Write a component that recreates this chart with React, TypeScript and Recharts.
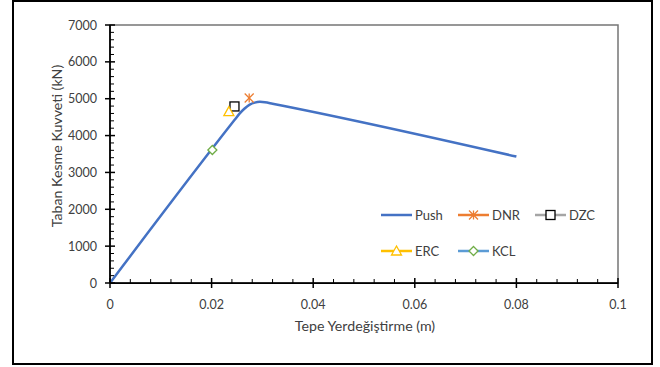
import React from 'react';
import {
  ComposedChart,
  Line,
  Scatter,
  XAxis,
  YAxis,
  ReferenceArea,
} from 'recharts';

// ---- Data ----
const pushX = [0, 0.0245, 0.0255, 0.0265, 0.0275, 0.0285, 0.0295, 0.0305, 0.032, 0.08];
const pushY = [0, 4420, 4595, 4735, 4840, 4895, 4915, 4905, 4865, 3430];

const dnrPoint = { x: 0.0274, y: 5020 };
const dzcPoint = { x: 0.0245, y: 4790 };
const ercPoint = { x: 0.0234, y: 4650 };
const kclPoint = { x: 0.02015, y: 3608 };

const xMajorTicks = [0, 0.02, 0.04, 0.06, 0.08, 0.1];
const xTickLabels = ['0', '0.02', '0.04', '0.06', '0.08', '0.1'];
const yMajorTicks = [0, 1000, 2000, 3000, 4000, 5000, 6000, 7000];
const xMinorStep = 0.004;
const yMinorStep = 200;

const xTitle = 'Tepe Yerdeğiştirme (m)';
const yTitle = 'Taban Kesme Kuvveti (kN)';

const seriesNames = ['Push', 'DNR', 'DZC', 'ERC', 'KCL'];

// ---- Derived ----
const pushData = pushX.map((x, i) => ({ x, y: pushY[i] }));
const xTicks: number[] = [];
for (let i = 0; i <= 25; i++) xTicks.push(+(i * xMinorStep).toFixed(4));
const yTicks: number[] = [];
for (let i = 0; i <= 35; i++) yTicks.push(i * yMinorStep);

const isMajor = (v: number, list: number[]) => list.some((m) => Math.abs(m - v) < 1e-9);

const FONT = 'Lato, "Open Sans", sans-serif';
const TEXT = '#404040';

const COLORS = {
  push: '#4472C4',
  dnr: '#ED7D31',
  dzcLine: '#A5A5A5',
  dzcMarker: '#000000',
  erc: '#FFC000',
  kclLine: '#5B9BD5',
  kclMarker: '#70AD47',
};

type MarkerKind = 'star' | 'square' | 'triangle' | 'diamond';

const Marker = ({ kind, cx, cy, color }: { kind: MarkerKind; cx: number; cy: number; color: string }) => {
  const r = 4.5;
  if (kind === 'star') {
    return (
      <g stroke={color} strokeWidth={1.3} fill="none">
        <line x1={cx} y1={cy - r} x2={cx} y2={cy + r} />
        <line x1={cx - r} y1={cy - r} x2={cx + r} y2={cy + r} />
        <line x1={cx - r} y1={cy + r} x2={cx + r} y2={cy - r} />
      </g>
    );
  }
  if (kind === 'square') {
    return <rect x={cx - r} y={cy - r} width={2 * r} height={2 * r} stroke={color} strokeWidth={1.3} fill="#fff" />;
  }
  if (kind === 'triangle') {
    return (
      <polygon
        points={`${cx},${cy - r - 0.5} ${cx + r + 0.5},${cy + r - 0.5} ${cx - r - 0.5},${cy + r - 0.5}`}
        stroke={color}
        strokeWidth={1.3}
        fill="#fff"
      />
    );
  }
  return (
    <polygon
      points={`${cx},${cy - r} ${cx + r},${cy} ${cx},${cy + r} ${cx - r},${cy}`}
      stroke={color}
      strokeWidth={1.3}
      fill="#fff"
    />
  );
};

const legendItems: { name: string; line: string; marker?: MarkerKind; markerColor?: string }[] = [
  { name: seriesNames[0], line: COLORS.push },
  { name: seriesNames[1], line: COLORS.dnr, marker: 'star', markerColor: COLORS.dnr },
  { name: seriesNames[2], line: COLORS.dzcLine, marker: 'square', markerColor: COLORS.dzcMarker },
  { name: seriesNames[3], line: COLORS.erc, marker: 'triangle', markerColor: COLORS.erc },
  { name: seriesNames[4], line: COLORS.kclLine, marker: 'diamond', markerColor: COLORS.kclMarker },
];

const LegendBox = () => {
  const colW = 77;
  const rowH = 36;
  return (
    <svg width={240} height={60} style={{ position: 'absolute', left: 381, top: 207, overflow: 'visible' }}>
      {legendItems.map((it, i) => {
        const col = i < 3 ? i : i - 3;
        const row = i < 3 ? 0 : 1;
        const x0 = col * colW;
        const y0 = 8 + row * rowH;
        return (
          <g key={it.name}>
            <line x1={x0} y1={y0} x2={x0 + 31} y2={y0} stroke={it.line} strokeWidth={2.5} />
            {it.marker && <Marker kind={it.marker} cx={x0 + 15.5} cy={y0} color={it.markerColor || it.line} />}
            <text x={x0 + 34} y={y0} dominantBaseline="central" fontFamily={FONT} fontSize={13} fill={TEXT}>
              {it.name}
            </text>
          </g>
        );
      })}
    </svg>
  );
};

const XTick = (props: any) => {
  const { x, y, payload } = props;
  const v = payload.value;
  const major = isMajor(v, xMajorTicks);
  const idx = xMajorTicks.findIndex((m) => Math.abs(m - v) < 1e-9);
  return (
    <g>
      {major ? (
        <line x1={x} y1={y - 5} x2={x} y2={y + 5} stroke="#000" strokeWidth={1.5} />
      ) : (
        <line x1={x} y1={y - 4} x2={x} y2={y} stroke="#000" strokeWidth={1} />
      )}
      {major && (
        <text x={x} y={y + 21} textAnchor="middle" dominantBaseline="central" fontFamily={FONT} fontSize={12.5} fill={TEXT}>
          {xTickLabels[idx]}
        </text>
      )}
    </g>
  );
};

const YTick = (props: any) => {
  const { x, y, payload } = props;
  const v = payload.value;
  const major = isMajor(v, yMajorTicks);
  return (
    <g>
      {major ? (
        <line x1={x - 5} y1={y} x2={x + 5} y2={y} stroke="#000" strokeWidth={1.5} />
      ) : (
        <line x1={x} y1={y} x2={x + 4} y2={y} stroke="#000" strokeWidth={1} />
      )}
      {major && (
        <text x={x - 13} y={y} textAnchor="end" dominantBaseline="central" fontFamily={FONT} fontSize={12.5} fill={TEXT}>
          {String(v)}
        </text>
      )}
    </g>
  );
};

const markerShape = (kind: MarkerKind, color: string) => (p: any) => <Marker kind={kind} cx={p.cx} cy={p.cy} color={color} />;

export default function App() {
  return (
    <div style={{ position: 'absolute', left: 0, top: 0, width: 660, height: 367, background: '#fff' }}>
      <div
        style={{
          position: 'absolute',
          left: 12,
          top: 0,
          width: 641,
          height: 365,
          border: '2px solid #000',
          boxSizing: 'border-box',
        }}
      />
      <div style={{ position: 'absolute', left: 0, top: 0 }}>
        <ComposedChart width={660} height={367} margin={{ top: 25, right: 42, bottom: 44, left: 50 }}>
          <XAxis
            dataKey="x"
            type="number"
            domain={[0, 0.1]}
            ticks={xTicks}
            interval={0}
            tick={<XTick />}
            tickLine={false}
            tickSize={0}
            tickMargin={0}
            height={40}
            axisLine={{ stroke: '#000', strokeWidth: 1.75 }}
            allowDataOverflow
            label={{
              content: (p: any) => {
                const vb = p.viewBox;
                return (
                  <text
                    x={vb.x + vb.width / 2 + 1}
                    y={vb.y + 42}
                    textAnchor="middle"
                    dominantBaseline="central"
                    fontFamily={FONT}
                    fontSize={14.2}
                    fill={TEXT}
                  >
                    {xTitle}
                  </text>
                );
              },
            }}
          />
          <YAxis
            dataKey="y"
            type="number"
            domain={[0, 7000]}
            ticks={yTicks}
            interval={0}
            tick={<YTick />}
            tickLine={false}
            tickSize={0}
            tickMargin={0}
            width={60}
            axisLine={{ stroke: '#000', strokeWidth: 1.75 }}
            allowDataOverflow
            label={{
              content: (p: any) => {
                const vb = p.viewBox;
                const cx = vb.x + 6;
                const cy = 146;
                return (
                  <text
                    x={cx}
                    y={cy}
                    transform={`rotate(-90 ${cx} ${cy})`}
                    textAnchor="middle"
                    dominantBaseline="central"
                    fontFamily={FONT}
                    fontSize={14.2}
                    fill={TEXT}
                  >
                    {yTitle}
                  </text>
                );
              },
            }}
          />
          <ReferenceArea x1={0} x2={0.1} y1={0} y2={7000} fill="none" stroke="#767676" strokeWidth={1.5} ifOverflow="visible" />
          <Line
            data={pushData}
            dataKey="y"
            name={seriesNames[0]}
            type="monotone"
            stroke={COLORS.push}
            strokeWidth={2.5}
            dot={false}
            activeDot={false}
            isAnimationActive={false}
            legendType="none"
          />
          <Scatter data={[dnrPoint]} dataKey="y" name={seriesNames[1]} shape={markerShape('star', COLORS.dnr)} isAnimationActive={false} legendType="none" />
          <Scatter data={[dzcPoint]} dataKey="y" name={seriesNames[2]} shape={markerShape('square', COLORS.dzcMarker)} isAnimationActive={false} legendType="none" />
          <Scatter data={[ercPoint]} dataKey="y" name={seriesNames[3]} shape={markerShape('triangle', COLORS.erc)} isAnimationActive={false} legendType="none" />
          <Scatter data={[kclPoint]} dataKey="y" name={seriesNames[4]} shape={markerShape('diamond', COLORS.kclMarker)} isAnimationActive={false} legendType="none" />
        </ComposedChart>
      </div>
      <LegendBox />
    </div>
  );
}
